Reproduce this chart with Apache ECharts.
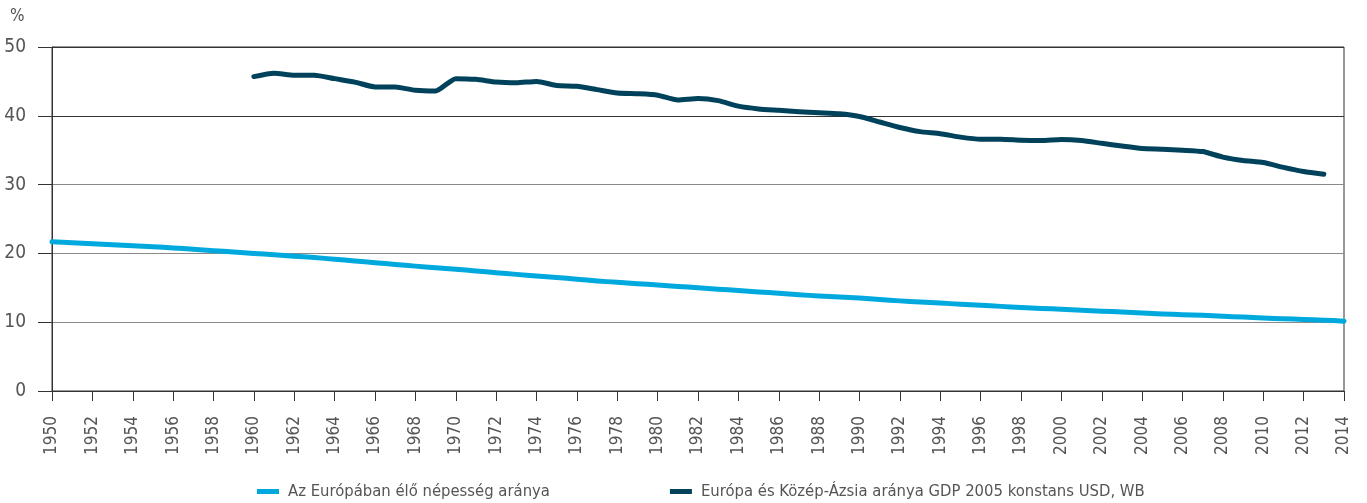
<!DOCTYPE html>
<html>
<head>
<meta charset="utf-8">
<script src="https://cdn.jsdelivr.net/npm/echarts@6/dist/echarts.min.js"></script>
<style>
html,body{margin:0;padding:0;background:#fff;}
#main{width:1367px;height:503px;}
</style>
</head>
<body>
<div id="main"></div>
<script>
var years = [];
for (var y = 1950; y <= 2014; y++) years.push(String(y));

var seriesNames = ['Az Európában élő népesség aránya', 'Európa és Közép-Ázsia aránya GDP 2005 konstans USD, WB'];

// 1950..2014
var population = [21.7, 21.55, 21.4, 21.25, 21.1, 20.95, 20.8, 20.6, 20.4, 20.2,
  20.0, 19.8, 19.6, 19.4, 19.15, 18.9, 18.65, 18.4, 18.15, 17.9,
  17.7, 17.45, 17.2, 16.95, 16.7, 16.5, 16.25, 16.0, 15.8, 15.6,
  15.4, 15.2, 15.0, 14.8, 14.6, 14.4, 14.2, 14.0, 13.8, 13.65,
  13.5, 13.3, 13.1, 12.95, 12.8, 12.6, 12.45, 12.3, 12.15, 12.0,
  11.9, 11.75, 11.6, 11.5, 11.35, 11.2, 11.1, 11.0, 10.85, 10.75,
  10.6, 10.5, 10.4, 10.3, 10.15];

// 1950..2014 (no data before 1960 and for 2014)
var gdp = [null, null, null, null, null, null, null, null, null, null,
  45.7, 46.2, 45.9, 45.9, 45.4, 44.9, 44.2, 44.2, 43.7, 43.6,
  45.4, 45.3, 44.9, 44.8, 45.0, 44.4, 44.3, 43.8, 43.3, 43.2,
  43.0, 42.3, 42.5, 42.2, 41.4, 41.0, 40.8, 40.6, 40.45, 40.3,
  39.9, 39.1, 38.3, 37.7, 37.4, 36.9, 36.6, 36.6, 36.45, 36.4,
  36.55, 36.4, 36.0, 35.6, 35.25, 35.15, 35.0, 34.8, 34.0, 33.5,
  33.2, 32.5, 31.9, 31.5, null];

var yTicks = {min: 0, max: 50, interval: 10};

var FONT = "'Liberation Sans Narrow', 'DejaVu Sans Condensed', 'Roboto', sans-serif";

var chart = echarts.init(document.getElementById('main'), null, {renderer: 'canvas'});
chart.setOption({
  animation: false,
  backgroundColor: '#ffffff',
  title: {
    text: '%', left: 5, top: 3,
    textStyle: {fontFamily: FONT, fontSize: 17, fontWeight: 'normal', color: '#555'}
  },
  grid: {left: 52, right: 23, top: 47, bottom: 112, show: true, borderColor: '#333', borderWidth: 1, backgroundColor: 'transparent'},
  legend: {
    left: 252, top: 478,
    itemWidth: 22, itemHeight: 5, itemGap: 120,
    icon: 'rect',
    textStyle: {fontFamily: FONT, fontSize: 16.5, color: '#555', padding: [0, 0, 0, 4]},
    data: seriesNames
  },
  xAxis: {
    type: 'category',
    data: years,
    boundaryGap: false,
    axisLine: {show: true, lineStyle: {color: '#333', width: 1}},
    axisTick: {show: true, interval: 1, length: 10, lineStyle: {color: '#333'}},
    axisLabel: {interval: 1, rotate: 90, margin: 25, fontFamily: FONT, fontSize: 17, color: '#555'},
    splitLine: {show: false}
  },
  yAxis: {
    type: 'value',
    min: yTicks.min, max: yTicks.max, interval: yTicks.interval,
    axisLine: {show: true, lineStyle: {color: '#333', width: 1}},
    axisTick: {show: true, length: 14, lineStyle: {color: '#333'}},
    axisLabel: {margin: 26, fontFamily: FONT, fontSize: 19, color: '#555'},
    splitLine: {show: true, lineStyle: {color: ['#333', '#8a8a8a', '#8a8a8a', '#8a8a8a', '#333', '#333'], width: 1}}
  },
  series: [
    {
      name: seriesNames[0], type: 'line', data: population,
      showSymbol: false, smooth: 0.2,
      itemStyle: {color: '#00a9dd'},
      lineStyle: {color: '#00a9dd', width: 5, cap: 'round', join: 'round'}
    },
    {
      name: seriesNames[1], type: 'line', data: gdp,
      showSymbol: false, smooth: 0.2, connectNulls: false,
      itemStyle: {color: '#00425b'},
      lineStyle: {color: '#00425b', width: 5, cap: 'round', join: 'round'}
    }
  ]
});
</script>
</body>
</html>
